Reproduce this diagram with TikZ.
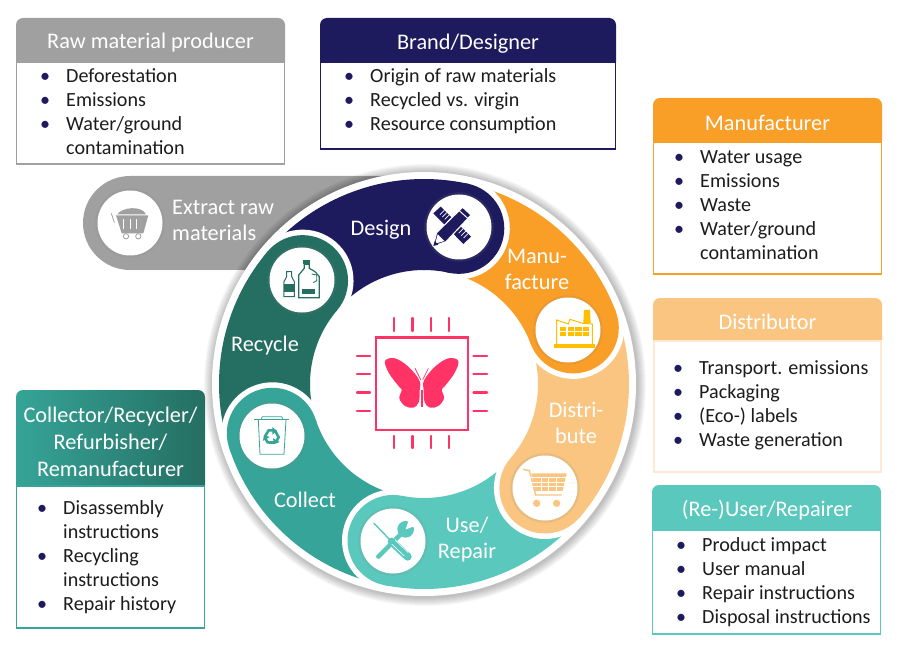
\documentclass[tikz,border=0pt]{standalone}
\usepackage{fontspec}
\setmainfont{Carlito}
\usetikzlibrary{calc,shadows}

\definecolor{greycol}{HTML}{A0A0A0}
\definecolor{designcol}{HTML}{1E1A5E}
\definecolor{makecol}{HTML}{F99F28}
\definecolor{distcol}{HTML}{F9C580}
\definecolor{distline}{HTML}{FDE9D4}
\definecolor{usecol}{HTML}{5AC8BC}
\definecolor{collectcol}{HTML}{36A498}
\definecolor{recyclecol}{HTML}{256E62}
\definecolor{yellowcol}{HTML}{FFC000}
\definecolor{pinkcol}{HTML}{FF3366}
\definecolor{inkcol}{HTML}{1C1C1C}

\newcommand{\bul}{\makebox[26pt][l]{\textcolor{designcol}{\textbullet}}}
\newcommand{\cont}{\hspace*{26pt}}

\tikzset{
    headtxt/.style={text=white,inner sep=0pt,align=center,font=\fontsize{22.3}{27}\selectfont},
    ringtxt/.style={text=white,inner sep=0pt,align=center,font=\fontsize{22.3}{26}\selectfont},
    listtxt/.style={text=inkcol,inner sep=0pt,anchor=north west,align=left,font=\fontsize{20.1}{24}\selectfont},
    iconcirc/.style={circle,fill=white,minimum size=65pt,inner sep=0pt,
        drop shadow={shadow xshift=0pt,shadow yshift=0pt,shadow scale=1.07,opacity=.14}},
    pinline/.style={pinkcol,line width=2.4pt,line cap=round}
}

\begin{document}
\begin{tikzpicture}[x=1pt,y=-1pt]
    \useasboundingbox (0,0) rectangle (900,647);
    \coordinate (O) at (424,384);

    % grey lead-in behind the ring
    \fill[greycol,rounded corners=47pt] (83,176) rectangle (440,270);

    % soft edge of the ring
    \foreach \r in {221,220,...,213} {\fill[black,opacity=.03] ($(O)+(1,1)$) circle (\r);}
    \fill[white] (O) circle (212);

    % bands, each one from the head before it up to its own head
    \foreach \from/\to/\col in {220.4/282.6/designcol,282.6/339.4/makecol,339.4/400.7/distcol,
        400.7/461.2/usecol,461.2/522/collectcol,522/580.4/recyclecol} {
        \fill[\col] ($(O)+(\from:205)$) arc[start angle=\from,end angle=\to,radius=205]
            -- ($(O)+(\to:114)$) arc[start angle=\to,end angle=\from,radius=114] -- cycle;
    }
    % round heads with the white edge on their leading side
    \foreach \to/\col in {282.6/designcol,339.4/makecol,400.7/distcol,
        461.2/usecol,522/collectcol,580.4/recyclecol} {
        \fill[white] ($(O)+(\to:210.5)$) arc[start angle=\to,delta angle=180,radius=51] -- cycle;
        \fill[\col] ($(O)+(\to:159.5)$) circle (45.5);
    }

    \node[iconcirc] (designicon) at (459,227) {};
    \node[iconcirc] (makeicon) at (568,330) {};
    \node[iconcirc] (disticon) at (545,488) {};
    \node[iconcirc] (useicon) at (393,541) {};
    \node[iconcirc] (collecticon) at (272,436) {};
    \node[iconcirc] (recycleicon) at (302,280) {};
    \node[iconcirc] (extracticon) at (130,223) {};

    \node[ringtxt] (designlab) at (381,230) {Design};
    \node[ringtxt] (makelab) at (537,269) {Manu-\\facture};
    \node[ringtxt] (distlab) at (576,423) {Distri-\\bute};
    \node[ringtxt] (uselab) at (467,539.5) {Use/\\Repair};
    \node[ringtxt] (collectlab) at (305,500) {Collect};
    \node[ringtxt] (recyclelab) at (265,346) {Recycle};
    \node[ringtxt,align=left,anchor=west] (extractlab) at (172,220) {Extract raw\\materials};

    % chip and butterfly in the middle
    \draw[pinkcol,line width=2.4pt] (375.7,337.3) rectangle (467.7,430);
    \foreach \v in {394,412.3,430.7,449} {
        \draw[pinline] (\v,318) -- (\v,331);
        \draw[pinline] (\v,436) -- (\v,448);
    }
    \foreach \v in {355.7,374,392.3,410.7} {
        \draw[pinline] (357,\v) -- (370,\v);
        \draw[pinline] (473.5,\v) -- (487,\v);
    }
    \foreach \s in {1,-1} {
        \begin{scope}[shift={(421.7,305)},xscale=\s,x=.3333pt,y=-.3333pt]
            \fill[pinkcol] plot[smooth cycle,tension=.6] coordinates {(-7,226) (-40,185) (-80,160)
                (-110,168) (-98,205) (-68,245) (-60,255) (-67,280) (-50,303) (-25,308) (-9,292) (-6,256)};
            \draw[pinkcol,line width=.7pt] (-20,190) -- (-3,224);
            \draw[pinkcol,line width=1pt] (-1,255) -- (-1,305);
        \end{scope}
    }

    % ruler and pencil
    \begin{scope}[shift={(400,170)},x=.3333pt,y=-.3333pt]
        \fill[designcol] (100,130) -- (122,110) -- (213,200) -- (190,222) -- cycle;
        \foreach \t in {.12,.2,.28,.36,.66,.74,.82,.9} {
            \draw[white,line width=.7pt] ($(122,110)!\t!(213,200)$) -- ++(-13,13);
        }
        \filldraw[fill=designcol,draw=white,line width=1pt] (100,228) -- (110,188) -- (188,112) -- (213,135) -- (138,215) -- cycle;
        \draw[white,line width=1pt] (178,122) -- (203,145);
        \fill[white] (106,221) -- (113,193) -- (133,213) -- cycle;
        \fill[designcol] (100,228) -- (104,213) -- (115,224) -- cycle;
    \end{scope}

    % bottle and jug
    \begin{scope}[shift={(200,160)},x=.3333pt,y=-.3333pt]
        \draw[recyclecol,line width=1pt] (260,335) -- (275,335) -- (275,350) -- (283,365) -- (283,410) -- (252,410) -- (252,365) -- (260,350) -- cycle;
        \fill[recyclecol] (252,372) rectangle (283,395);
        \fill[recyclecol] (309,300) rectangle (331,311);
        \draw[recyclecol,line width=1.2pt] (313,313) -- (328,313) -- (328,325) -- (345,335) -- (358,350) -- (358,413) -- (296,413) -- (296,345) -- (313,325) -- cycle;
        \draw[recyclecol,line width=.8pt] (335,342) -- (350,345) -- (350,362) -- (340,368);
        \fill[recyclecol] (305,388) rectangle (345,403);
    \end{scope}

    % factory
    \begin{scope}[shift={(400,170)},x=.3333pt,y=-.3333pt]
        \fill[yellowcol] (462,522) rectangle (585,535);
        \fill[yellowcol] (552,420) -- (570,420) -- (572,460) -- (550,460) -- cycle;
        \draw[yellowcol,line width=1pt] (470,522) -- (470,450) -- (505,462) -- (510,448) -- (548,460) -- (577,462) -- (577,522);
        \foreach \x in {480,503,526,549} {
            \foreach \y in {472,487} {\fill[yellowcol] (\x,\y) rectangle ++(19,12);}
        }
    \end{scope}

    % shopping cart
    \begin{scope}[shift={(340,360)},x=.3333pt,y=-.3333pt]
        \draw[distcol,line width=1.4pt] (548,328) -- (568,332) -- (587,405) -- (665,405);
        \fill[distcol] (574,340) -- (680,340) -- (668,393) -- (585,393) -- cycle;
        \foreach \y in {354,367,380} {\draw[white,line width=1pt] (570,\y) -- (685,\y);}
        \foreach \x in {603,626,649} {\draw[white,line width=.8pt] (\x,350) -- (\x,393);}
        \fill[distcol] (590,430) circle (11);
        \fill[distcol] (650,430) circle (11);
    \end{scope}

    % wrench and screwdriver
    \begin{scope}[shift={(340,360)},x=.3333pt,y=-.3333pt]
        \draw[usecol,line width=4.5pt,line cap=round] (115,590) -- (185,520);
        \fill[usecol] (197,508) circle (25);
        \fill[white] (197,508) -- (235,495) -- (210,470) -- cycle;
        \draw[white,line width=7pt] (150,538) -- (207,592);
        \draw[usecol,line width=1.4pt,line cap=round] (102,490) -- (155,545);
        \draw[usecol,line width=8pt,line cap=round] (155,545) -- (203,590);
        \draw[white,line width=.6pt] (165,540) -- (205,578);
        \draw[white,line width=.6pt] (155,552) -- (193,588);
    \end{scope}

    % bin with recycling arrows
    \begin{scope}[shift={(200,370)},x=.3333pt,y=-.3333pt]
        \draw[collectcol,line width=1pt] (163,150) -- (268,150);
        \draw[collectcol,line width=.8pt] (183,150) -- (187,140) -- (245,140) -- (249,150);
        \draw[collectcol,line width=.8pt] (175,150) -- (180,253) -- (252,253) -- (258,150);
        \foreach \a in {0,120,240} {
            \begin{scope}[shift={(215,200)},rotate=\a]
                \draw[collectcol,line width=2.6pt] (-21,1) -- (-9,-19) -- (4,-19);
                \fill[collectcol] (2,-29) -- (16,-17) -- (2,-6) -- cycle;
            \end{scope}
        }
    \end{scope}

    % mine cart
    \begin{scope}[shift={(80,170)},x=.3333pt,y=-.3333pt]
        \draw[greycol,line width=.8pt] (94,130) -- (103,158);
        \fill[greycol] (112,133) .. controls (125,112) and (185,105) .. (198,133) -- cycle;
        \fill[greycol] (108,136) -- (205,136) -- (190,190) -- (125,190) -- cycle;
        \foreach \x in {130,150,170} {\draw[white,line width=.8pt] (\x,148) -- (\x,178);}
        \draw[greycol,line width=.8pt] (138,199) circle (8);
        \draw[greycol,line width=.8pt] (175,199) circle (8);
    \end{scope}

    % Raw material producer
    \fill[greycol,rounded corners=7pt] (16,62) -- (16,18) -- (285,18) [sharp corners] -- (285,62) -- cycle;
    \draw[greycol,line width=1.4pt] (16.7,62) rectangle (284.3,164);
    \node[headtxt] (rawhead) at (150.5,43) {Raw material producer};
    \node[listtxt] (rawlist) at (40,68.5) {\bul Deforestation\\\bul Emissions\\\bul Water/ground\\\cont contamination};

    % Brand/Designer
    \fill[designcol,rounded corners=7pt] (320,62) -- (320,18) -- (616,18) [sharp corners] -- (616,62) -- cycle;
    \draw[designcol,line width=1.4pt] (320.7,62) rectangle (615.3,149);
    \node[headtxt] (brandhead) at (468,44) {Brand/Designer};
    \node[listtxt] (brandlist) at (344,68.5) {\bul Origin of raw materials\\\bul Recycled vs. virgin\\\bul Resource consumption};

    % Manufacturer
    \fill[makecol,rounded corners=7pt] (653,142) -- (653,98) -- (882,98) [sharp corners] -- (882,142) -- cycle;
    \draw[makecol,line width=1.4pt] (653.7,142) rectangle (881.3,274);
    \node[headtxt] (makehead) at (767.5,123) {Manufacturer};
    \node[listtxt] (makelist) at (674,150.5) {\bul Water usage\\\bul Emissions\\\bul Waste\\\bul Water/ground\\\cont contamination};

    % Distributor
    \fill[distcol,rounded corners=7pt] (653,341) -- (653,298) -- (882,298) [sharp corners] -- (882,341) -- cycle;
    \draw[distline,line width=1.6pt] (653.8,341) rectangle (881.2,472);
    \node[headtxt] (disthead) at (767.5,321.5) {Distributor};
    \node[listtxt] (distlist) at (673,360.5) {\bul Transport. emissions\\\bul Packaging\\\bul (Eco-) labels\\\bul Waste generation};

    % (Re-)User/Repairer
    \fill[usecol,rounded corners=7pt] (652,530) -- (652,485) -- (881,485) [sharp corners] -- (881,530) -- cycle;
    \draw[usecol,line width=1.4pt] (652.7,530) rectangle (880.3,634);
    \node[headtxt] (userhead) at (767,510) {(Re-)User/Repairer};
    \node[listtxt] (userlist) at (676,537.5) {\bul Product impact\\\bul User manual\\\bul Repair instructions\\\bul Disposal instructions};

    % Collector/Recycler/...
    \shade[left color=collectcol,right color=recyclecol,rounded corners=7pt] (16,486) -- (16,390) -- (205,390) [sharp corners] -- (205,486) -- cycle;
    \draw[collectcol,line width=1.4pt] (16.7,486) rectangle (204.3,628);
    \node[headtxt] (collecthead) at (110.5,441.5) {Collector/Recycler/\\Refurbisher/\\Remanufacturer};
    \node[listtxt] (collectlist) at (37,500.5) {\bul Disassembly\\\cont instructions\\\bul Recycling\\\cont instructions\\\bul Repair history};
\end{tikzpicture}
\end{document}
